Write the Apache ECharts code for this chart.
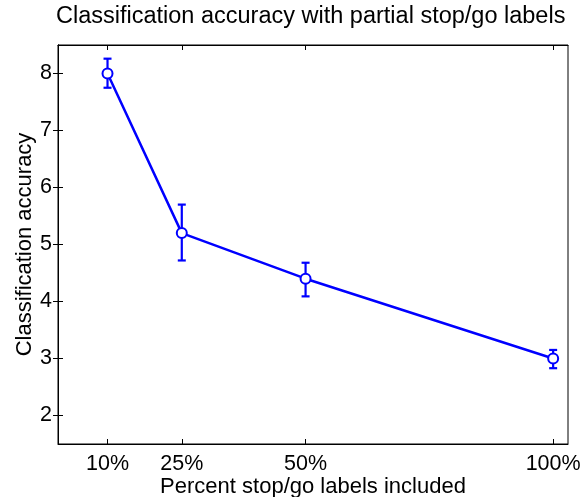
<!DOCTYPE html>
<html>
<head>
<meta charset="utf-8">
<script src="https://cdn.jsdelivr.net/npm/echarts@6/dist/echarts.min.js"></script>
<style>
    html, body { margin: 0; padding: 0; background: #fff; }
    #chart { width: 585px; height: 497px; }
</style>
</head>
<body>
<div id="chart"></div>
<script>
// data
const percents = [10, 25, 50, 100];
const accuracy = [8.0, 5.2, 4.4, 3.0];
const errLow = [7.75, 4.72, 4.09, 2.83];
const errHigh = [8.26, 5.70, 4.68, 3.15];
const xTicks = [10, 25, 50, 100];
const yTicks = [2, 3, 4, 5, 6, 7, 8];

const FONT = 'Liberation Sans';
const BLUE = '#0000ff';

let chart = echarts.init(document.getElementById('chart'));

let linePoints = [];
let errPoints = [];
for (let i = 0; i < percents.length; i++) {
    linePoints.push([percents[i], accuracy[i]]);
    errPoints.push([percents[i], errLow[i], errHigh[i]]);
}

// 误差棒
function renderErrorBar(params, api) {
    let x = api.value(0);
    let top = api.coord([x, api.value(2)]);
    let bottom = api.coord([x, api.value(1)]);
    let half = 4;
    let style = {stroke: BLUE, lineWidth: 2.2};
    return {
        type: 'group',
        children: [
            {type: 'line', shape: {x1: top[0], y1: top[1], x2: bottom[0], y2: bottom[1]}, style: style},
            {type: 'line', shape: {x1: top[0] - half, y1: top[1], x2: top[0] + half, y2: top[1]}, style: style},
            {type: 'line', shape: {x1: bottom[0] - half, y1: bottom[1], x2: bottom[0] + half, y2: bottom[1]}, style: style}
        ]
    };
}

const axisBase = {
    type: 'value',
    axisLine: {show: true, lineStyle: {color: '#000', width: 1}},
    splitLine: {show: false}
};

let option = {
    animation: false,
    title: {
        text: 'Classification accuracy with partial stop/go labels',
        left: 56,
        top: 5,
        padding: 0,
        textStyle: {fontFamily: FONT, fontSize: 23.5, fontWeight: 'normal', color: '#000'}
    },
    grid: {
        left: 58, right: 17, top: 45, bottom: 53,
        outerBoundsMode: 'none',
        containLabel: false,
        show: true, borderColor: '#000', borderWidth: 1
    },
    xAxis: [
        Object.assign({}, axisBase, {
            position: 'bottom',
            min: 0, max: 103,
            name: 'Percent stop/go labels included',
            nameLocation: 'middle',
            nameGap: 32,
            nameMoveOverlap: false,
            nameTextStyle: {fontFamily: FONT, fontSize: 22, color: '#000'},
            axisTick: {show: true, inside: true, length: 5, customValues: xTicks, lineStyle: {color: '#000'}},
            axisLabel: {customValues: xTicks, formatter: '{value}%', margin: 9,
                fontFamily: FONT, fontSize: 21.5, color: '#000'}
        }),
        Object.assign({}, axisBase, {
            position: 'top',
            min: 0, max: 103,
            axisTick: {show: true, inside: true, length: 5, customValues: xTicks, lineStyle: {color: '#000'}},
            axisLabel: {show: false}
        })
    ],
    yAxis: [
        Object.assign({}, axisBase, {
            position: 'left',
            min: 1.5, max: 8.5,
            name: 'Classification accuracy',
            nameLocation: 'middle',
            nameGap: 22,
            nameMoveOverlap: false,
            nameTextStyle: {fontFamily: FONT, fontSize: 22, color: '#000'},
            axisTick: {show: true, inside: true, length: 5, customValues: yTicks, lineStyle: {color: '#000'}},
            axisLabel: {customValues: yTicks, margin: 6, fontFamily: FONT, fontSize: 21.5, color: '#000'}
        }),
        Object.assign({}, axisBase, {
            position: 'right',
            min: 1.5, max: 8.5,
            axisTick: {show: true, inside: true, length: 5, customValues: yTicks, lineStyle: {color: '#000'}},
            axisLabel: {show: false}
        })
    ],
    series: [
        {
            name: 'error',
            type: 'custom',
            renderItem: renderErrorBar,
            data: errPoints,
            z: 3
        },
        {
            name: 'accuracy',
            type: 'line',
            data: linePoints,
            symbol: 'emptyCircle',
            symbolSize: 10,
            lineStyle: {color: BLUE, width: 2.5},
            itemStyle: {color: BLUE, borderColor: BLUE, borderWidth: 2},
            z: 4
        }
    ]
};

chart.setOption(option);
</script>
</body>
</html>
